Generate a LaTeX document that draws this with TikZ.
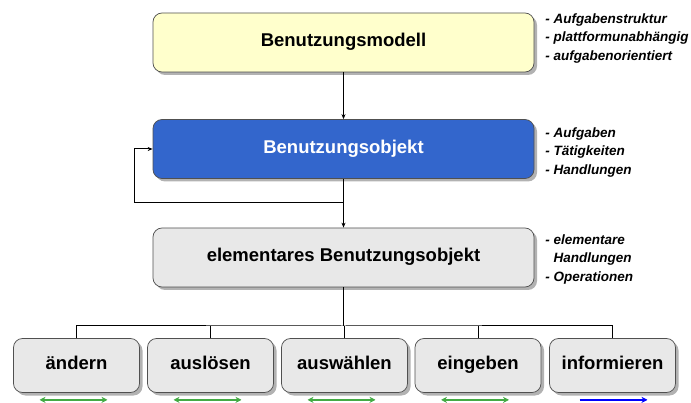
\documentclass[tikz,border=0pt]{standalone}
\usepackage{fontspec}
\setmainfont{Liberation Sans}
\usetikzlibrary{arrows.meta,shadows}
\definecolor{modelfill}{RGB}{255,255,204}
\definecolor{objfill}{RGB}{51,102,204}
\definecolor{elemfill}{RGB}{232,232,232}
\definecolor{boxline}{RGB}{80,80,80}
\definecolor{arrgreen}{RGB}{68,170,68}
\tikzset{every picture/.style={line width=0.75pt}}

\begin{document}
\begin{tikzpicture}[x=1pt,y=-1pt,
  bigbox/.style={draw=boxline, rounded corners=9pt, minimum width=381pt, minimum height=59pt,
    font=\fontsize{18.5}{22}\selectfont\bfseries, text height=13pt, text depth=4pt,
    drop shadow={shadow xshift=3pt, shadow yshift=-3pt, fill=black!30, opacity=1}},
  smallbox/.style={draw=boxline, fill=elemfill, rounded corners=9pt, minimum width=126pt, minimum height=54pt,
    font=\fontsize{18.5}{22}\selectfont\bfseries, text height=13pt, text depth=4pt,
    drop shadow={shadow xshift=3pt, shadow yshift=-3pt, fill=black!30, opacity=1}},
  note/.style={anchor=north west, align=left, inner sep=0pt,
    font=\fontsize{13.5}{18.5}\selectfont\bfseries\itshape},
  conn/.style={line width=1pt},
  tip/.style={-{Stealth[length=5pt,width=4pt]}}]
\useasboundingbox (0,0) rectangle (691,403);

% Shapes: main boxes
\node [bigbox, fill=modelfill] (model) at (343.5,42.5) {Benutzungsmodell};
\node [bigbox, fill=objfill, text=white] (obj) at (343.5,149) {Benutzungsobjekt};
\node [bigbox, fill=elemfill] (elem) at (343.5,257.5) {elementares Benutzungsobjekt};

% Shapes: operation boxes
\node [smallbox] (aendern) at (76.5,365.5) {ändern};
\node [smallbox] (ausloesen) at (210.5,365.5) {auslösen};
\node [smallbox] (auswaehlen) at (344.5,365.5) {auswählen};
\node [smallbox] (eingeben) at (478,365.5) {eingeben};
\node [smallbox] (informieren) at (612.5,365.5) {informieren};

% Text Node
\node [note] (modelnote) at (545,13) {- Aufgabenstruktur\\- plattformunabhängig\\- aufgabenorientiert};
% Text Node
\node [note] (objnote) at (545,127) {- Aufgaben\\- Tätigkeiten\\- Handlungen};
% Text Node
\node [note] (elemnote) at (545,234) {- elementare\\\phantom{- }Handlungen\\- Operationen};

% Straight Lines
\draw [conn, tip] (model.south) -- (obj.north);
\coordinate (split) at (343.5,203);
\coordinate (loopturn) at (134,203);
\draw [conn, tip] (obj.south) -- (split) -- (elem.north);
\draw [conn, tip] (split) -- (loopturn) |- (obj.west);

% Bus to the operation boxes
\coordinate (bus) at (343.5,326);
\draw [conn] (elem.south) -- (bus);
\draw [conn] (aendern.north) |- (bus) -| (informieren.north);
\foreach \op in {ausloesen,auswaehlen,eingeben}
  \draw [conn] (\op.north) -- (\op.north |- bus);

% Double arrows below the boxes
\foreach \op in {aendern,ausloesen,auswaehlen,eingeben}
  \draw [arrgreen, line width=1.5pt, {Stealth[length=6pt,width=6pt]}-{Stealth[length=6pt,width=6pt]}]
    ([xshift=-37pt,yshift=-7pt]\op.south) -- ([xshift=31pt,yshift=-7pt]\op.south);
\draw [blue, line width=1.5pt, -{Stealth[length=6pt,width=6pt]}]
  ([xshift=-33pt,yshift=-7pt]informieren.south) -- ([xshift=35pt,yshift=-7pt]informieren.south);

\end{tikzpicture}
\end{document}
